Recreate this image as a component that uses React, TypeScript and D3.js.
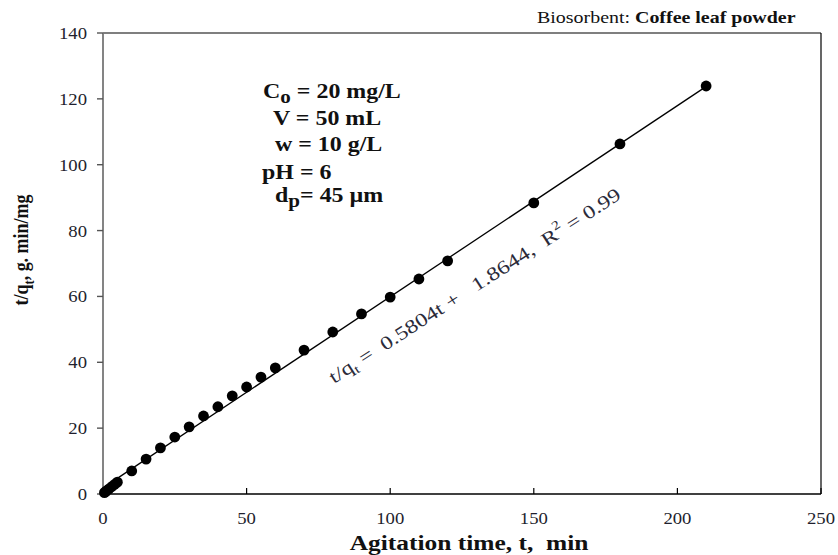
import React from "react";
import * as d3 from "d3";

// Pseudo-second-order kinetics: t/qt versus agitation time
const timeMin = [0.5, 1, 2, 3, 4, 5, 10, 15, 20, 25, 30, 35, 40, 45, 50, 55, 60, 70, 80, 90, 100, 110, 120, 150, 180, 210];
const tOverQ = [0.4, 0.8, 1.5, 2.2, 2.9, 3.6, 7.0, 10.6, 14.0, 17.3, 20.4, 23.7, 26.5, 29.8, 32.5, 35.5, 38.3, 43.7, 49.2, 54.7, 59.8, 65.3, 70.8, 88.4, 106.3, 123.9];
const fitSlope = 0.5804;
const fitIntercept = 1.8644;
const fitRange = [0, 211];
const xTicks = [0, 50, 100, 150, 200, 250];
const yTicks = [0, 20, 40, 60, 80, 100, 120, 140];
const conditions = [
  { main: "C", sub: "o", rest: " = 20 mg/L", dx: 0 },
  { main: "V = 50 mL", sub: "", rest: "", dx: 10 },
  { main: "w = 10 g/L", sub: "", rest: "", dx: 12 },
  { main: "pH = 6", sub: "", rest: "", dx: -1 },
  { main: "d", sub: "p", rest: "= 45 \u00b5m", dx: 12 },
];

const W = 838;
const H = 555;
const plot = { left: 103, right: 821, top: 33, bottom: 494 };
const serif = "Liberation Serif, Times New Roman, serif";
// text in this figure is set slightly wide
const WIDE = 1.1;

export default function App() {
  const x = d3.scaleLinear().domain([0, 250]).range([plot.left, plot.right]);
  const y = d3.scaleLinear().domain([0, 140]).range([plot.bottom, plot.top]);
  const fitLine = d3
    .line<number>()
    .x((t) => x(t))
    .y((t) => y(fitSlope * t + fitIntercept));

  // on-screen angle of the fitted line, used to align its equation
  const pxSlope = (fitSlope * (y(0) - y(100))) / (x(100) - x(0));
  const angle = (-Math.atan(pxSlope) * 180) / Math.PI + 0.8;
  const lineYBaseline = [98, 125, 151, 179, 202];

  return (
    <svg
      width={W}
      height={H}
      style={{ position: "absolute", left: 0, top: 0, background: "#fff", fontFamily: serif }}
    >
      {/* frame */}
      <line x1={plot.left} x2={plot.right} y1={plot.top} y2={plot.top} stroke="#000" strokeWidth={1.2} />
      <line x1={plot.right} x2={plot.right} y1={plot.top} y2={plot.bottom} stroke="#000" strokeWidth={1.2} />
      <line x1={plot.left} x2={plot.right} y1={plot.bottom} y2={plot.bottom} stroke="#000" strokeWidth={1.4} />
      <line x1={plot.left} x2={plot.left} y1={plot.top} y2={plot.bottom} stroke="#777" strokeWidth={1.8} />

      {/* y axis ticks */}
      {yTicks.map((v) => (
        <g key={"y" + v}>
          <line x1={plot.left - 6} x2={plot.left} y1={y(v)} y2={y(v)} stroke="#555" strokeWidth={1.4} />
          <text
            transform={`translate(${plot.left - 16}, ${y(v)}) scale(${WIDE}, 1)`}
            dy="0.35em"
            textAnchor="end"
            fontSize={17}
            fill="#1f1f2e"
          >
            {v}
          </text>
        </g>
      ))}

      {/* x axis ticks */}
      {xTicks.map((v) => (
        <g key={"x" + v}>
          <line x1={x(v)} x2={x(v)} y1={plot.bottom} y2={plot.bottom - 6} stroke="#000" strokeWidth={1.2} />
          <text
            transform={`translate(${x(v)}, ${plot.bottom + 24}) scale(${WIDE}, 1)`}
            dy="0.35em"
            textAnchor="middle"
            fontSize={17}
            fill="#1f1f2e"
          >
            {v}
          </text>
        </g>
      ))}

      {/* axis titles */}
      <text
        transform={`translate(${469}, 550) scale(1.157, 1)`}
        textAnchor="middle"
        fontSize={22}
        fontWeight="bold"
        fill="#111"
      >
        Agitation time, t,{"\u00a0\u00a0"}min
      </text>
      <text
        transform={`translate(28, 250) rotate(-90) scale(1, 1.15)`}
        textAnchor="middle"
        fontSize={18}
        fontWeight="bold"
        fill="#111"
      >
        t/q
        <tspan fontSize={12.5} dy={5}>t</tspan>
        <tspan dy={-5}>, g. min/mg</tspan>
      </text>

      {/* caption */}
      <text transform={`translate(537, 23) scale(1.14, 1)`} fontSize={17.5} fill="#111">
        Biosorbent:{" "}
        <tspan fontWeight="bold">Coffee leaf powder</tspan>
      </text>

      {/* experimental conditions */}
      {conditions.map((c, i) => (
        <text
          key={i}
          transform={`translate(${263 + c.dx}, ${lineYBaseline[i]}) scale(1.14, 1)`}
          fontSize={21}
          fontWeight="bold"
          fill="#111"
        >
          {c.main}
          {c.sub ? (
            <tspan fontSize={18.5} dy={5}>
              {c.sub}
            </tspan>
          ) : null}
          {c.rest ? <tspan dy={c.sub ? -5 : 0}>{c.rest}</tspan> : null}
        </text>
      ))}

      {/* fitted line */}
      <path d={fitLine([fitRange[0], fitRange[1]]) ?? ""} fill="none" stroke="#000" strokeWidth={1.3} />

      {/* data points */}
      {timeMin.map((t, i) => (
        <circle key={i} cx={x(t)} cy={y(tOverQ[i])} r={5.4} fill="#000" />
      ))}

      {/* fit equation */}
      <text
        transform={`translate(334, 384) rotate(${angle}) scale(1.25, 1)`}
        fontSize={19}
        fill="#2b2b3a"
      >
        t/q
        <tspan fontSize={12.5} dy={4}>t</tspan>
        <tspan dy={-4}>{"\u00a0= \u00a00.5804t + \u00a0 1.8644, \u00a0R"}</tspan>
        <tspan fontSize={12.5} dy={-9}>2</tspan>
        <tspan dy={9}>{"\u00a0= 0.99"}</tspan>
      </text>
    </svg>
  );
}
